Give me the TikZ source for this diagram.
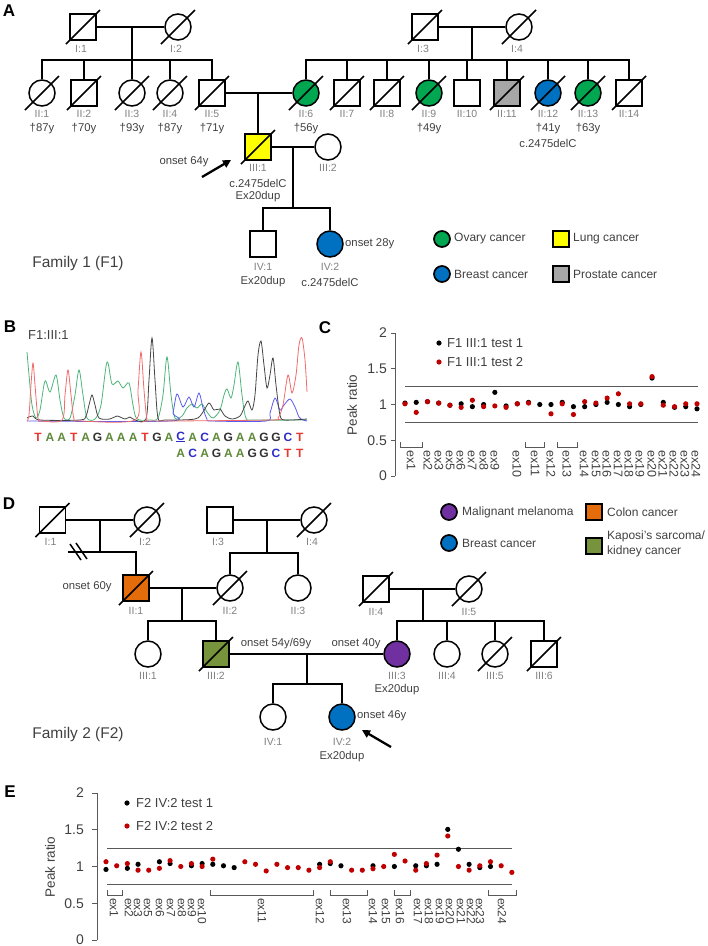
\documentclass[tikz,border=0pt]{standalone}
\usepackage{fontspec}
\setmainfont{Liberation Sans}
\usetikzlibrary{arrows.meta,calc}
\definecolor{ovary}{HTML}{00A650}
\definecolor{breast}{HTML}{0070C0}
\definecolor{lung}{HTML}{FFFF00}
\definecolor{prost}{HTML}{A6A6A6}
\definecolor{colon}{HTML}{E46C0A}
\definecolor{kaposi}{HTML}{77933C}
\definecolor{melan}{HTML}{7030A0}
\definecolor{idgray}{HTML}{7F7F7F}
\definecolor{txt}{HTML}{404040}
\definecolor{dred}{HTML}{C00000}
\definecolor{axg}{HTML}{595959}
\definecolor{tr}{HTML}{F26B6B}
\definecolor{tg}{HTML}{4DB57A}
\definecolor{tb}{HTML}{5A5AF0}
\definecolor{tk}{HTML}{454545}
\definecolor{sT}{HTML}{E8352E}
\definecolor{sA}{HTML}{5F8A3A}
\definecolor{sG}{HTML}{333333}
\definecolor{sC}{HTML}{2E2EC8}
\newcommand\myfs[1]{\fontsize{#1}{#1}\selectfont}
\newcommand\deadmark[1]{\draw[pl] ($(#1.center)+(-17,17)$) -- ($(#1.center)+(17,-17)$);}
\tikzset{
  pl/.style={line width=1.5pt, black},
  sq/.style={draw, line width=1.5pt, rectangle, minimum size=26pt, inner sep=0pt, fill=white},
  ci/.style={draw, line width=1.5pt, circle, minimum size=26pt, inner sep=0pt, fill=white},
  idl/.style={text=idgray, font=\myfs{10.5}, inner sep=0pt},
  agel/.style={text=txt, font=\myfs{11.3}, inner sep=0pt},
  lgc/.style={circle, draw, line width=1.7pt, minimum size=16pt, inner sep=0pt},
  lgs/.style={rectangle, draw, line width=1.7pt, minimum size=16pt, inner sep=0pt},
  lgt/.style={anchor=west, font=\myfs{12}, text=txt, inner sep=0pt, align=left},
  panel/.style={font=\myfs{17}\bfseries, inner sep=0pt},
  fam/.style={font=\myfs{15.5}, text=txt, inner sep=0pt},
  bigarrow/.style={line width=2.3pt, -{Triangle[length=8pt,width=8pt]}},
  axis/.style={line width=0.9pt, axg},
  tkl/.style={anchor=east, font=\myfs{14}, text=txt, inner sep=0pt},
  ylab/.style={rotate=90, font=\myfs{13.5}, text=txt, inner sep=0pt},
  exl/.style={rotate=-90, anchor=west, font=\myfs{12}, text=txt, inner sep=0pt},
  seq/.style={font=\myfs{12}\bfseries, inner sep=0pt},
  trace/.style={line width=0.8pt, smooth, tension=0.5},
}
\begin{document}
\begin{tikzpicture}[x=1pt,y=-1pt]
\useasboundingbox (0,0) rectangle (708,946);
% ================= Panel A =================
\node[panel] (pA) at (9,11) {A};
\node[sq] (aI1) at (83,27) {}; \deadmark{aI1}
\node[ci] (aI2) at (178,27) {}; \deadmark{aI2}
\node[sq] (aI3) at (425,27) {}; \deadmark{aI3}
\node[ci] (aI4) at (519,27) {}; \deadmark{aI4}
\draw[pl] (aI1.east) -- (aI2.west);
\draw[pl] (aI3.east) -- (aI4.west);
\coordinate (am1) at (132,27); \coordinate (as1) at (132,60);
\coordinate (am2) at (472,27); \coordinate (as2) at (472,60);
\draw[pl] (am1) -- (as1);
\draw[pl] (am2) -- (as2);
\foreach \n/\t in {aI1/I:1,aI2/I:2,aI3/I:3,aI4/I:4}
  \node[idl] (l\n) at ($(\n.center)+(-2,22)$) {\t};
% II generation
\node[ci] (aII1) at (42,93) {};
\node[sq] (aII2) at (84,93) {};
\node[ci] (aII3) at (132,93) {};
\node[ci] (aII4) at (170,93) {};
\node[sq] (aII5) at (212,93) {};
\node[ci,fill=ovary] (aII6) at (306,93) {};
\node[sq] (aII7) at (347,93) {};
\node[sq] (aII8) at (387,93) {};
\node[ci,fill=ovary] (aII9) at (429,93) {};
\node[sq] (aII10) at (467,93) {};
\node[sq,fill=prost] (aII11) at (507,93) {};
\node[ci,fill=breast] (aII12) at (548,93) {};
\node[ci,fill=ovary] (aII13) at (588,93) {};
\node[sq] (aII14) at (629,93) {};
\foreach \n in {aII1,aII2,aII3,aII4,aII5,aII6,aII7,aII8,aII9,aII11,aII12,aII13,aII14} {\deadmark{\n}}
\draw[pl] (aII1.north) -- (aII1.north |- as1) -- (aII5.north |- as1) -- (aII5.north);
\foreach \n in {aII2,aII3,aII4} {\draw[pl] (\n.north) -- (\n.north |- as1);}
\draw[pl] (aII6.north) -- (aII6.north |- as2) -- (aII14.north |- as2) -- (aII14.north);
\foreach \n in {aII7,aII8,aII9,aII10,aII11,aII12,aII13} {\draw[pl] (\n.north) -- (\n.north |- as2);}
\foreach \n/\t in {aII1/II:1,aII2/II:2,aII3/II:3,aII4/II:4,aII5/II:5,aII6/II:6,aII7/II:7,aII8/II:8,aII9/II:9,aII10/II:10,aII11/II:11,aII12/II:12,aII13/II:13,aII14/II:14}
  \node[idl] (l\n) at ($(\n.center)+(0,21)$) {\t};
\foreach \n/\t in {aII1/†87y,aII2/†70y,aII3/†93y,aII4/†87y,aII5/†71y,aII6/†56y,aII9/†49y,aII12/†41y,aII13/†63y}
  \node[agel] (g\n) at ($(\n.center)+(0,36)$) {\t};
\node[agel] (gaII12b) at (548,143) {c.2475delC};
% III generation
\draw[pl] (aII5.east) -- (aII6.west);
\coordinate (am3) at (258,93);
\node[sq,fill=lung] (aIII1) at (258,147) {}; \deadmark{aIII1}
\node[ci] (aIII2) at (328,147) {};
\draw[pl] (am3) -- (aIII1.north);
\draw[pl] (aIII1.east) -- (aIII2.west);
\node[idl] (laIII1) at (258,168) {III:1};
\node[agel] (gaIII1a) at (258,183) {c.2475delC};
\node[agel] (gaIII1b) at (258,197) {Ex20dup};
\node[idl] (laIII2) at (328,168) {III:2};
\node[agel] (onA) at (184,162) {onset 64y};
\coordinate (aar1) at (202,177); \coordinate (aar2) at (231,160);
\draw[bigarrow] (aar1) -- (aar2);
% IV generation
\coordinate (am4) at (293,147); \coordinate (as4) at (293,208);
\draw[pl] (am4) -- (as4);
\node[sq] (aIV1) at (263,244) {};
\node[ci,fill=breast] (aIV2) at (330,244) {};
\draw[pl] (aIV1.north) -- (aIV1.north |- as4) -- (aIV2.north |- as4) -- (aIV2.north);
\node[idl] (laIV1) at (263,267) {IV:1};
\node[agel] (gaIV1) at (263,282) {Ex20dup};
\node[idl] (laIV2) at (330,267) {IV:2};
\node[agel] (gaIV2) at (330,282) {c.2475delC};
\node[agel, anchor=west] (onA2) at (345,244) {onset 28y};
\node[fam] (famA) at (78,263) {Family 1 (F1)};
% legend A
\node[lgc,fill=ovary] (lgA1) at (442,239) {};
\node[lgt] (lgA1t) at (454,239) {Ovary cancer};
\node[lgc,fill=breast] (lgA2) at (442,274) {};
\node[lgt] (lgA2t) at (454,274) {Breast cancer};
\node[lgs,fill=lung] (lgA3) at (561,239) {};
\node[lgt] (lgA3t) at (573,239) {Lung cancer};
\node[lgs,fill=prost] (lgA4) at (561,274) {};
\node[lgt] (lgA4t) at (573,274) {Prostate cancer};
% ================= Panel B =================
\node[panel] (pB) at (10,327) {B};
\node[font=\myfs{13}, text=txt, anchor=west, inner sep=0pt] (bt) at (28,335) {F1:III:1};
\draw[trace, tg] plot coordinates {(27,352) (29,375) (32,405) (36,418) (40,410) (45,381) (50,392) (56,375) (60,400) (64,418) (70,418) (75,395) (79,370) (83,395) (87,418) (95,419) (101,405) (107,362) (112,384) (118,381) (123,388) (129,383) (133,405) (137,419) (150,420) (158,418) (163,395) (167,357) (171,395) (175,418) (182,416) (187,408) (192,404) (197,408) (202,404) (207,412) (213,418) (220,410) (224,395) (227,389) (231,398) (234,385) (238,362) (242,395) (246,418) (255,420) (307,420)};
\draw[trace, tb] plot coordinates {(27,421) (170,421) (173,413) (177,394) (183,407) (189,397) (194,407) (199,393) (203,408) (207,419) (212,421) (266,421) (270,413) (275,398) (280,410) (284,405) (290,399) (295,407) (299,417) (303,420) (307,421)};
\draw[trace, tk] plot coordinates {(27,418) (33,416) (40,420) (80,420) (86,416) (89,405) (92,395) (95,405) (99,418) (110,419) (117,416) (125,419) (130,417) (135,420) (146,419) (149,380) (152,338) (155,380) (158,418) (165,420) (195,419) (203,412) (209,403) (214,410) (220,409) (225,416) (232,419) (240,416) (244,408) (248,401) (252,410) (255,395) (258,355) (261,341) (264,365) (267,388) (270,375) (273,358) (276,385) (280,415) (285,420) (307,419)};
\draw[trace, tr] plot coordinates {(27,421) (29,415) (31,385) (33,363) (35,385) (38,418) (42,421) (62,420) (65,395) (68,370) (71,395) (74,419) (80,421) (135,420) (138,390) (141,352) (144,390) (147,419) (152,421) (270,420) (278,418) (283,405) (288,375) (292,393) (296,375) (299,345) (302,338) (305,360) (307,392)};
\foreach \l/\c [count=\i from 0] in {T/sT,A/sA,A/sA,T/sT,A/sA,G/sG,A/sA,A/sA,A/sA,T/sT,G/sG,A/sA,\underline{C}/sC,A/sA,C/sC,A/sA,G/sG,A/sA,A/sA,G/sG,G/sG,C/sC,T/sT}
  \node[seq, text=\c] (sa\i) at ({38+11.9*\i},437) {\l};
\foreach \l/\c [count=\i from 12] in {A/sA,C/sC,A/sA,G/sG,A/sA,A/sA,G/sG,G/sG,C/sC,T/sT,T/sT}
  \node[seq, text=\c] (sb\i) at ({38+11.9*\i},453) {\l};
% ================= Panel C =================
\node[panel] (pC) at (325,328) {C};
\draw[axis] (395,333) -- (395,476);
\foreach \v/\t in {0/0,0.5/0.5,1/1,1.5/1.5,2/2} {
  \draw[axis] (391,{476-71.5*\v}) -- (395,{476-71.5*\v});
  \node[tkl] (ct\t) at (387,{476-71.5*\v}) {\t};
}
\node[ylab] (cyl) at (352,405) {Peak ratio};
\draw[axis] (405,{476-71.5*1.25}) -- (698,{476-71.5*1.25});
\draw[axis] (405,{476-71.5*0.75}) -- (698,{476-71.5*0.75});
\foreach \i/\v in {0/1.02,1/1.03,2/1.04,3/1.02,4/0.99,5/1.01,6/0.97,7/1.00,8/1.17,9/0.98,10/1.01,11/1.03,12/1.00,13/1.00,14/1.03,15/0.97,16/0.97,17/1.00,18/1.03,19/1.00,20/0.97,21/1.00,22/1.37,23/1.03,24/0.96,25/0.97,26/0.94}
  \fill[black] ({405+11.23*\i},{476-71.5*\v}) circle (2.6);
\foreach \i/\v in {0/1.01,1/0.89,2/1.04,3/1.02,4/0.99,5/0.96,6/1.06,7/0.97,8/0.98,9/0.96,10/1.01,11/1.02,13/0.87,14/1.01,15/0.86,16/1.04,17/1.02,18/1.09,19/1.15,20/1.01,21/1.01,22/1.39,23/0.99,24/0.97,25/1.01,26/1.01}
  \fill[dred] ({405+11.23*\i},{476-71.5*\v}) circle (2.6);
\fill[black] (439,343) circle (2.6);
\node[lgt, font=\myfs{13}] (clg1) at (447,343) {F1 III:1 test 1};
\fill[dred] (439,362) circle (2.6);
\node[lgt, font=\myfs{13}] (clg2) at (447,362) {F1 III:1 test 2};
\foreach \a/\b in {400/422,525/544,557/577}
  \draw[axis] (\a,442) -- (\a,447) -- (\b,447) -- (\b,442);
\foreach \x/\t in {411/ex1,428/ex2,439/ex3,450/ex5,461/ex6,472/ex7,484/ex8,495/ex9,517/ex10,535/ex11,551/ex12,567/ex13,584/ex14,596/ex15,607/ex16,618/ex17,629/ex18,640/ex19,652/ex20,663/ex21,674/ex22,685/ex23,696/ex24}
  \node[exl, font=\myfs{12.5}] (cx\t) at (\x,450) {\t};
% ================= Panel D =================
\node[panel] (pD) at (9,504) {D};
\node[sq] (dI1) at (52.5,520) {}; \deadmark{dI1}
\node[ci] (dI2) at (147,520) {}; \deadmark{dI2}
\node[sq] (dI3) at (220,520) {};
\node[ci] (dI4) at (314,520) {}; \deadmark{dI4}
\draw[pl] (dI1.east) -- (dI2.west);
\draw[pl] (dI3.east) -- (dI4.west);
\foreach \n/\t in {dI1/I:1,dI2/I:2,dI3/I:3,dI4/I:4}
  \node[idl] (l\n) at ($(\n.center)+(-2,22)$) {\t};
\coordinate (dm1) at (100,520); \coordinate (ds1) at (100,552); \coordinate (dhl) at (68,552);
\coordinate (dm2) at (267,520); \coordinate (ds2) at (267,553);
\node[sq,fill=colon] (dII1) at (136,588) {}; \deadmark{dII1}
\node[ci] (dII2) at (230,588) {}; \deadmark{dII2}
\node[ci] (dII3) at (298,588) {};
\node[sq] (dII4) at (376,589) {}; \deadmark{dII4}
\node[ci] (dII5) at (469,589) {}; \deadmark{dII5}
\draw[pl] (dm1) -- (ds1);
\draw[pl] (dhl) -- (dII1.north |- ds1) -- (dII1.north);
\draw[pl] (70,544) -- (81,560);
\draw[pl] (76,543) -- (87,559);
\draw[pl] (dm2) -- (ds2);
\draw[pl] (dII2.north) -- (dII2.north |- ds2) -- (dII3.north |- ds2) -- (dII3.north);
\draw[pl] (dII1.east) -- (dII2.west);
\draw[pl] (dII4.east) -- (dII5.west);
\foreach \n/\t in {dII1/II:1,dII2/II:2,dII3/II:3,dII4/II:4,dII5/II:5}
  \node[idl] (l\n) at ($(\n.center)+(0,23)$) {\t};
\node[agel] (onD1) at (87,587) {onset 60y};
% III generation D
\coordinate (dm3) at (182,588); \coordinate (ds3) at (182,621);
\coordinate (dm4) at (423,589); \coordinate (ds4) at (423,621);
\node[ci] (dIII1) at (148,654) {};
\node[sq,fill=kaposi] (dIII2) at (216,654) {}; \deadmark{dIII2}
\node[ci,fill=melan] (dIII3) at (397,654) {};
\node[ci] (dIII4) at (447,654) {};
\node[ci] (dIII5) at (495,654) {}; \deadmark{dIII5}
\node[sq] (dIII6) at (544,654) {}; \deadmark{dIII6}
\draw[pl] (dm3) -- (ds3);
\draw[pl] (dIII1.north) -- (dIII1.north |- ds3) -- (dIII2.north |- ds3) -- (dIII2.north);
\draw[pl] (dm4) -- (ds4);
\draw[pl] (dIII3.north) -- (dIII3.north |- ds4) -- (dIII6.north |- ds4) -- (dIII6.north);
\foreach \n in {dIII4,dIII5} {\draw[pl] (\n.north) -- (\n.north |- ds4);}
\draw[pl] (dIII2.east) -- (dIII3.west);
\foreach \n/\t in {dIII1/III:1,dIII2/III:2,dIII3/III:3,dIII4/III:4,dIII5/III:5,dIII6/III:6}
  \node[idl] (l\n) at ($(\n.center)+(0,22)$) {\t};
\node[agel] (gdIII3) at (397,690) {Ex20dup};
\node[agel] (onD2) at (276,644) {onset 54y/69y};
\node[agel] (onD3) at (356,644) {onset 40y};
% IV generation D
\coordinate (dm5) at (307,654); \coordinate (ds5) at (307,684);
\node[ci] (dIV1) at (273,717) {};
\node[ci,fill=breast] (dIV2) at (342,717) {};
\draw[pl] (dm5) -- (ds5);
\draw[pl] (dIV1.north) -- (dIV1.north |- ds5) -- (dIV2.north |- ds5) -- (dIV2.north);
\node[idl] (ldIV1) at (273,742) {IV:1};
\node[idl] (ldIV2) at (342,742) {IV:2};
\node[agel] (gdIV2) at (342,757) {Ex20dup};
\node[agel, anchor=west] (onD4) at (357,716) {onset 46y};
\coordinate (dar1) at (391,747); \coordinate (dar2) at (362,730);
\draw[bigarrow] (dar1) -- (dar2);
\node[fam] (famD) at (78,734) {Family 2 (F2)};
% legend D
\node[lgc,fill=melan] (lgD1) at (449,512) {};
\node[lgt] (lgD1t) at (462,512) {Malignant melanoma};
\node[lgc,fill=breast] (lgD2) at (449,543) {};
\node[lgt] (lgD2t) at (462,543) {Breast cancer};
\node[lgs,fill=colon] (lgD3) at (594,512) {};
\node[lgt] (lgD3t) at (607,512) {Colon cancer};
\node[lgs,fill=kaposi] (lgD4) at (594,546) {};
\node[lgt] (lgD4t) at (607,544) {Kaposi’s sarcoma/\\[2.5pt]kidney cancer};
% ================= Panel E =================
\node[panel] (pE) at (10,792) {E};
\draw[axis] (97,793) -- (97,940);
\foreach \v/\t in {0/0,0.5/0.5,1/1,1.5/1.5,2/2} {
  \draw[axis] (92,{940-73.5*\v}) -- (97,{940-73.5*\v});
  \node[tkl] (et\t) at (84,{940-73.5*\v}) {\t};
}
\node[ylab] (eyl) at (50,867) {Peak ratio};
\draw[axis] (107,{940-73.5*1.25}) -- (512,{940-73.5*1.25});
\draw[axis] (107,{940-73.5*0.75}) -- (512,{940-73.5*0.75});
\foreach \i/\v in {0/0.96,2/0.975,3/1.03,5/1.065,6/1.04,8/1.01,9/1.04,10/1.03,11/1.01,12/0.985,20/1.03,21/1.04,22/1.01,25/1.01,27/1.0,29/1.01,30/1.01,31/1.03,32/1.505,33/1.235,34/1.03,35/0.985,36/1.0}
  \fill[black] ({106+10.68*\i},{940-73.5*\v}) circle (2.6);
\foreach \i/\v in {0/1.065,1/1.01,2/1.04,3/0.95,4/0.95,5/0.975,6/1.08,7/1.0,8/1.04,9/1.0,10/1.10,13/1.065,14/1.03,15/0.94,16/1.03,17/0.985,18/0.985,19/0.95,20/0.985,21/1.065,23/0.95,24/0.95,25/0.97,26/1.0,27/1.165,28/1.075,29/0.95,30/1.04,31/1.155,32/1.415,33/1.0,34/0.95,35/1.01,36/1.065,37/1.01,38/0.92}
  \fill[dred] ({106+10.68*\i},{940-73.5*\v}) circle (2.6);
\fill[black] (127,803) circle (2.6);
\node[lgt, font=\myfs{13}] (elg1) at (136,803) {F2 IV:2 test 1};
\fill[dred] (127,826) circle (2.6);
\node[lgt, font=\myfs{13}] (elg2) at (136,826) {F2 IV:2 test 2};
\foreach \a/\b in {107/122,210/313,330/367,394/410,488/516}
  \draw[axis] (\a,890) -- (\a,895) -- (\b,895) -- (\b,890);
\foreach \x/\t in {114/ex1,129/ex2,138/ex3,148/ex5,160/ex6,171/ex7,182/ex8,192/ex9,202/ex10,262/ex11,320/ex12,347/ex13,373/ex14,386/ex15,400/ex16,418/ex17,429/ex18,440/ex19,450/ex20,461/ex21,471/ex22,480/ex23,502/ex24}
  \node[exl] (ex\t) at (\x,898) {\t};
\end{tikzpicture}
\end{document}
